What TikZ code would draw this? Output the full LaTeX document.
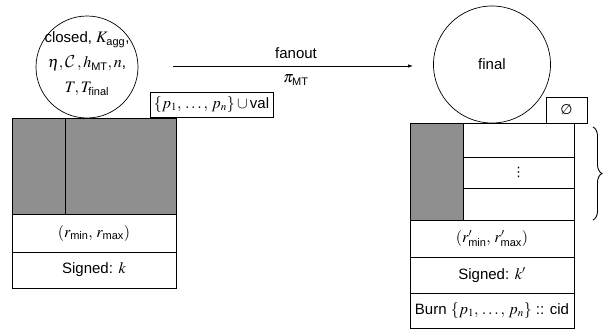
\documentclass[tikz,border=0pt]{standalone}
\usepackage{amsmath}
\usepackage{mathptmx}
\usepackage{fontspec}
\setmainfont{Liberation Sans}
\newfontfamily\dejavu{DejaVu Sans}
\DeclareMathAlphabet{\mathcalcm}{OMS}{cmsy}{m}{n}
\DeclareMathSizes{15}{16}{11}{8}
\usetikzlibrary{decorations.pathreplacing,arrows.meta}
\definecolor{boxgray}{RGB}{143,143,143}
\tikzset{
  cell/.style={draw, line width=0.7pt, inner sep=0pt, outer sep=0pt, anchor=north west, align=center},
  grcell/.style={cell, fill=boxgray},
  ball/.style={draw, circle, line width=0.7pt, inner sep=0pt, outer sep=0pt},
  lbl/.style={inner sep=1pt}
}
\begin{document}
\begin{tikzpicture}[x=1pt, y=-1pt, font=\fontsize{15}{17}\selectfont]
\useasboundingbox (0,0) rectangle (611,335);
% left stack
\node[grcell, minimum width=53pt, minimum height=96pt] (lgA) at (12,118) {};
\node[grcell, minimum width=111pt, minimum height=96pt] (lgB) at (65,118) {};
\node[cell, minimum width=164pt, minimum height=38pt] (lr1) at (12,214) {$(r_{\text{min}},\, r_{\text{max}})$};
\node[cell, minimum width=164pt, minimum height=36pt] (lr2) at (12,252) {Signed: $k$};
% left circle
\node[ball, minimum size=102pt] (lc) at (87,67) {};
\node[align=center, font=\fontsize{15}{25}\selectfont, inner sep=0pt] (lct) at (87,64)
  {closed, $K_{\text{agg}}$,\\ $\eta, \mathcalcm{C}\,, h_{\text{MT}}, n$,\\ $T, T_{\text{final}}$};
% label box
\node[cell, fill=white, minimum width=123pt, minimum height=25pt] (lp) at (150,92) {$\{p_1,\, \ldots,\, p_n\} \cup \text{val}$};
% arrow
\coordinate (a1) at (173,66);
\coordinate (a2) at (413,66);
\draw[line width=0.7pt, -{Latex[length=5pt,width=3.5pt]}] (a1) -- (a2);
\node[lbl] (fo) at (296,53) {fanout};
\node[lbl] (pi) at (296,80) {$\pi_{\text{MT}}$};
% right circle
\node[ball, minimum size=117pt] (rc) at (492,64.5) {final};
\node[cell, minimum width=41pt, minimum height=26pt] (re) at (546,97) {{\dejavu\fontsize{14}{16}\selectfont ∅}};
% right stack
\node[grcell, minimum width=53pt, minimum height=97pt] (rg) at (410,123) {};
\node[cell, minimum width=111pt, minimum height=34pt] (rs1) at (463,123) {};
\node[cell, minimum width=111pt, minimum height=31pt] (rs2) at (463,157) {{\dejavu\fontsize{13}{15}\selectfont ⋮}};
\node[cell, minimum width=111pt, minimum height=32pt] (rs3) at (463,188) {};
\node[cell, minimum width=164pt, minimum height=37pt] (rr1) at (410,220) {$(r'_{\text{min}},\, r'_{\text{max}})$};
\node[cell, minimum width=164pt, minimum height=36pt] (rr2) at (410,257) {Signed: $k'$};
\node[cell, minimum width=164pt, minimum height=35pt] (rr3) at (410,293) {Burn $\{p_1,\, \ldots,\, p_n\}$ :: cid};
% brace
\coordinate (bt) at (593,127);
\coordinate (bb) at (593,220);
\draw[line width=0.9pt, decorate, decoration={brace, amplitude=9pt}] (bt) -- (bb);
\end{tikzpicture}
\end{document}
